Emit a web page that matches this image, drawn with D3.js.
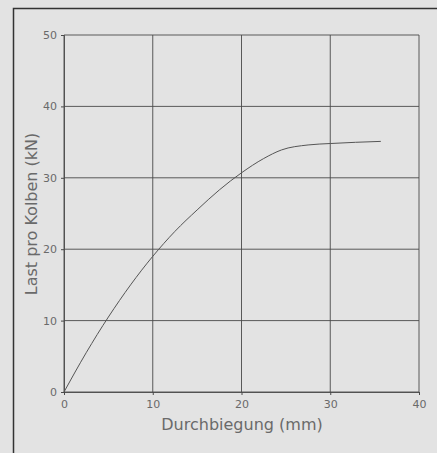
<!DOCTYPE html>
<html><head><meta charset="utf-8">
<script src="https://cdn.jsdelivr.net/npm/d3@7"></script>
<style>html,body{margin:0;padding:0;background:#e3e3e3;}svg{display:block;}</style>
</head><body>
<script>
const deflection = [0, 2.5, 5, 7.5, 10, 12.5, 15, 17.5, 20, 22.5, 24.5, 27.5, 30, 35.7];
const load =       [0, 5.5, 10.5, 15, 19, 22.5, 25.5, 28.3, 30.7, 32.7, 33.9, 34.6, 34.8, 35.1];
const xTicks = [0, 10, 20, 30, 40];
const yTicks = [0, 10, 20, 30, 40, 50];
const xLabel = "Durchbiegung (mm)";
const yLabel = "Last pro Kolben (kN)";

const W = 437, H = 453;
const svg = d3.select("body").append("svg").attr("width", W).attr("height", H);
svg.append("rect").attr("width", W).attr("height", H).attr("fill", "#e3e3e3");
// outer frame (cropped)
svg.append("path").attr("d", `M13.5,${H} V8.5 H${W}`).attr("fill", "none").attr("stroke", "#333").attr("stroke-width", 1.5);

const x = d3.scaleLinear().domain([0, 40]).range([64, 419]);
const y = d3.scaleLinear().domain([0, 50]).range([392, 35]);
const g = svg.append("g");
const gridColor = "#4a4a4a";
g.selectAll(".vg").data(xTicks).join("line")
  .attr("x1", d => x(d)).attr("x2", d => x(d)).attr("y1", y(0)).attr("y2", y(50))
  .attr("stroke", gridColor).attr("stroke-width", 0.9);
g.selectAll(".hg").data(yTicks).join("line")
  .attr("x1", x(0)).attr("x2", x(40)).attr("y1", d => y(d)).attr("y2", d => y(d))
  .attr("stroke", gridColor).attr("stroke-width", 0.9);

const font = "'DejaVu Sans', sans-serif";
const xAxis = svg.append("g").attr("transform", `translate(0,${y(0)})`)
  .call(d3.axisBottom(x).tickValues(xTicks).tickSize(3).tickPadding(5).tickFormat(d3.format("d")));
const yAxis = svg.append("g").attr("transform", `translate(${x(0)},0)`)
  .call(d3.axisLeft(y).tickValues(yTicks).tickSize(3).tickPadding(4).tickFormat(d3.format("d")));
[xAxis, yAxis].forEach(a => {
  a.select(".domain").attr("stroke", gridColor).attr("stroke-width", 0.9);
  a.selectAll(".tick line").attr("stroke", gridColor);
  a.selectAll("text").attr("fill", "#6a6a6a").style("font-family", font).style("font-size", "11px");
});

const line = d3.line().x(d => x(d[0])).y(d => y(d[1])).curve(d3.curveMonotoneX);
svg.append("path").datum(deflection.map((d, i) => [d, load[i]]))
  .attr("d", line).attr("fill", "none").attr("stroke", "#555").attr("stroke-width", 1);

svg.append("text").attr("x", 242).attr("y", 430).attr("text-anchor", "middle")
  .attr("fill", "#6a6a6a").style("font-family", font).style("font-size", "16px").text(xLabel);
svg.append("text").attr("transform", `translate(37,214) rotate(-90)`).attr("text-anchor", "middle")
  .attr("fill", "#6a6a6a").style("font-family", font).style("font-size", "16px").text(yLabel);
</script>
</body></html>
